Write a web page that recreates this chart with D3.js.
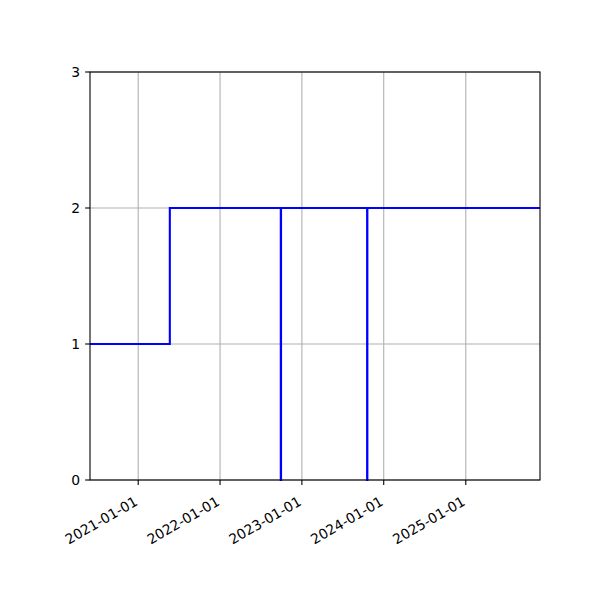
<!DOCTYPE html>
<html>
<head>
<meta charset="utf-8">
<script src="https://cdn.jsdelivr.net/npm/d3@7"></script>
<style>
  body { margin: 0; background: #fff; }
  text { font-family: "DejaVu Sans", sans-serif; }
</style>
</head>
<body>
<div id="chart"></div>
<script>
// step series: value holds from each date until the next one
const dates = ["2020-05-31", "2021-05-22", "2022-09-29", "2022-09-30", "2023-10-19", "2023-10-20", "2025-11-28"];
const values = [1, 2, 0, 2, 0, 2, 2];
const xTicks = ["2021-01-01", "2022-01-01", "2023-01-01", "2024-01-01", "2025-01-01"];
const yTicks = [0, 1, 2, 3];
const xDomain = ["2020-05-31", "2025-11-28"];
const yDomain = [0, 3];

(function() {
    const width = 600, height = 600;
    const left = 90, right = 540, top = 72, bottom = 480;
    const parse = d3.utcParse("%Y-%m-%d");
    const fontSize = 13.9;
    const tickLen = 4.9, pad = 4.9;

    const x = d3.scaleUtc().domain(xDomain.map(parse)).range([left, right]);
    const y = d3.scaleLinear().domain(yDomain).range([bottom, top]);

    const svg = d3.select("#chart").append("svg")
        .attr("width", width)
        .attr("height", height);

    // grid
    const grid = svg.append("g").attr("stroke", "#b0b0b0").attr("stroke-width", 1.1);
    grid.selectAll("line.gx")
        .data(xTicks)
        .enter().append("line")
        .attr("x1", d => x(parse(d))).attr("x2", d => x(parse(d)))
        .attr("y1", top).attr("y2", bottom);
    grid.selectAll("line.gy")
        .data(yTicks)
        .enter().append("line")
        .attr("x1", left).attr("x2", right)
        .attr("y1", d => y(d)).attr("y2", d => y(d));

    // step line
    const pts = dates.map((d, i) => ({date: parse(d), value: values[i]}));
    const line = d3.line()
        .x(d => x(d.date))
        .y(d => y(d.value))
        .curve(d3.curveStepAfter);
    svg.append("path")
        .datum(pts)
        .attr("d", line)
        .attr("fill", "none")
        .attr("stroke", "#0000ff")
        .attr("stroke-width", 2.1);

    // frame
    svg.append("rect")
        .attr("x", left).attr("y", top)
        .attr("width", right - left).attr("height", bottom - top)
        .attr("fill", "none")
        .attr("stroke", "#000")
        .attr("stroke-width", 1.1);

    // x ticks
    const xt = svg.append("g");
    xt.selectAll("line")
        .data(xTicks)
        .enter().append("line")
        .attr("x1", d => x(parse(d))).attr("x2", d => x(parse(d)))
        .attr("y1", bottom).attr("y2", bottom + tickLen)
        .attr("stroke", "#000").attr("stroke-width", 1.1);
    xt.selectAll("text")
        .data(xTicks)
        .enter().append("text")
        .attr("transform", d => "translate(" + (x(parse(d)) + 0.5) + "," + (bottom + tickLen + pad + 14.5) + ") rotate(-30)")
        .attr("text-anchor", "end")
        .attr("font-size", fontSize)
        .attr("fill", "#000")
        .text(d => d);

    // y ticks
    const yt = svg.append("g");
    yt.selectAll("line")
        .data(yTicks)
        .enter().append("line")
        .attr("x1", left - tickLen).attr("x2", left)
        .attr("y1", d => y(d)).attr("y2", d => y(d))
        .attr("stroke", "#000").attr("stroke-width", 1.1);
    yt.selectAll("text")
        .data(yTicks)
        .enter().append("text")
        .attr("x", left - tickLen - pad)
        .attr("y", d => y(d))
        .attr("dy", "0.36em")
        .attr("text-anchor", "end")
        .attr("font-size", fontSize)
        .attr("fill", "#000")
        .text(d => d);
})();
</script>
</body>
</html>
